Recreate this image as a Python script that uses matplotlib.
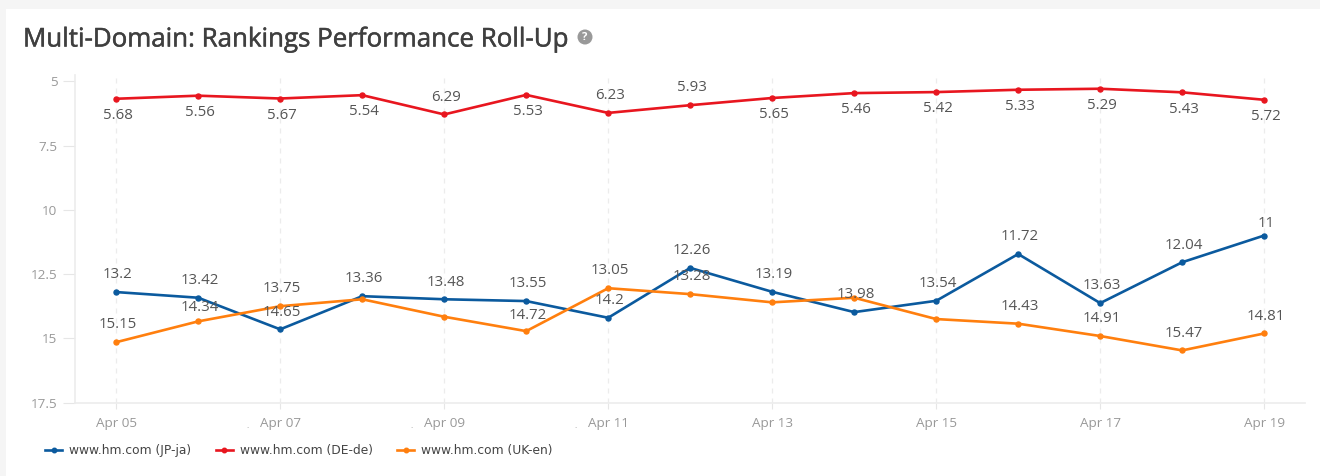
import datetime as dt

import matplotlib
matplotlib.use('Agg')
import matplotlib.dates as mdates
import matplotlib.patheffects as pe
import matplotlib.pyplot as plt
from matplotlib.patches import Rectangle

W, H = 1320, 476
DPI = 100

days = [dt.datetime(2021, 4, d) for d in range(5, 20)]

# pos: 1 label above the point, -1 below, 0 hidden by the chart's overlap handling
# nudge: extra shift in points for labels the chart moved on its own
series = [
    {
        'name': 'www.hm.com (JP-ja)',
        'color': '#0b5a9e',
        'values': [13.2, 13.42, 14.65, 13.36, 13.48, 13.55, 14.2, 12.26,
                   13.19, 13.98, 13.54, 11.72, 13.63, 12.04, 11],
        'pos': [1, 1, 1, 1, 1, 1, 1, 1, 1, 1, 1, 1, 1, 1, 1],
        'nudge': {14: -4},
    },
    {
        'name': 'www.hm.com (DE-de)',
        'color': '#e8161f',
        'values': [5.68, 5.56, 5.67, 5.54, 6.29, 5.53, 6.23, 5.93,
                   5.65, 5.46, 5.42, 5.33, 5.29, 5.43, 5.72],
        'pos': [-1, -1, -1, -1, 1, -1, 1, 1, -1, -1, -1, -1, -1, -1, -1],
        'nudge': {},
    },
    {
        'name': 'www.hm.com (UK-en)',
        'color': '#ff7f0e',
        'values': [15.15, 14.34, 13.75, 13.48, 14.16, 14.72, 13.05, 13.28,
                   13.6, 13.42, 14.25, 14.43, 14.91, 15.47, 14.81],
        'pos': [1, 1, 1, 0, 0, 1, 1, 1, 0, 0, 0, 1, 1, 1, 1],
        'nudge': {1: -2.5, 5: -1.2},
    },
]

plt.rcParams['font.family'] = ['Open Sans', 'DejaVu Sans']

fig = plt.figure(figsize=(W / DPI, H / DPI), dpi=DPI, facecolor='#f5f5f5')
fig.patches.append(Rectangle((6 / W, 0), 1 - 6 / W, 1 - 9 / H, transform=fig.transFigure,
                             facecolor='white', edgecolor='none', zorder=-5))

ax = fig.add_axes([75.2 / W, 1 - 402.6 / H, (1305.2 - 75.2) / W, (402.6 - 74.6) / H])
ax.patch.set_alpha(0)

for s in series:
    ax.plot(days, s['values'], color=s['color'], linewidth=1.9, marker='o', markersize=3.6,
            label=s['name'], zorder=3, clip_on=False)

for s in series:
    for i, (day, val, pos) in enumerate(zip(days, s['values'], s['pos'])):
        if pos == 0:
            continue
        off = 12.4 if pos > 0 else -12.1
        off += s['nudge'].get(i, 0)
        ax.annotate(f'{val:g}', (day, val), xytext=(1.2, off), textcoords='offset points',
                    ha='center', va='center', fontsize=10.8, color='#555555', zorder=4)

ax.set_xlim(dt.datetime(2021, 4, 4, 12), dt.datetime(2021, 4, 19, 12))
ax.set_ylim(17.5, 4.74)
ax.set_yticks([5, 7.5, 10, 12.5, 15, 17.5])
ax.set_yticklabels(['5', '7.5', '10', '12.5', '15', '17.5'])
ax.xaxis.set_major_locator(mdates.DayLocator(bymonthday=range(5, 20, 2)))
ax.xaxis.set_major_formatter(mdates.DateFormatter('%b %d'))

ax.grid(axis='x', color='#ececec', linestyle=(0, (4, 4)), linewidth=0.9)
ax.set_axisbelow(True)
ax.tick_params(axis='x', length=4.5, width=0.8, color='#e6e6e6', labelcolor='#999999',
               labelsize=9.7, pad=6)
ax.tick_params(axis='y', length=8.5, width=0.8, color='#e6e6e6', labelcolor='#999999',
               labelsize=9.7, pad=4.3)
for side in ('top', 'right'):
    ax.spines[side].set_visible(False)
for side in ('left', 'bottom'):
    ax.spines[side].set_color('#ececec')
    ax.spines[side].set_linewidth(1.2)

title = fig.text(23 / W, 1 - 46.5 / H, 'Multi-Domain: Rankings Performance Roll-Up', fontsize=18.66,
                 color='#3f3f3f', va='baseline', ha='left')
title.set_path_effects([pe.withStroke(linewidth=0.35, foreground='#3f3f3f')])
fig.text(585 / W, 1 - 37 / H, '?', fontsize=8, color='white', fontweight='bold', ha='center',
         va='center', bbox=dict(boxstyle='circle,pad=0.18', facecolor='#999999', edgecolor='none'))

# leftover clipped tick label dots under the axis
for x in (248, 412, 576):
    fig.text(x / W, 1 - 428 / H, '.', fontsize=6, color='#999999', ha='center', va='baseline')

leg = fig.legend(loc='lower left', bbox_to_anchor=(45 / W, 1 - 457 / H), ncol=3, frameon=False,
                 prop={'family': 'DejaVu Sans', 'size': 8.8}, handlelength=1.4, handletextpad=0.57,
                 columnspacing=2.0, borderpad=0, borderaxespad=0, markerscale=0.9)
for text in leg.get_texts():
    text.set_color('#444444')

fig.savefig('out.png', dpi=DPI, facecolor=fig.get_facecolor())
plt.close(fig)
